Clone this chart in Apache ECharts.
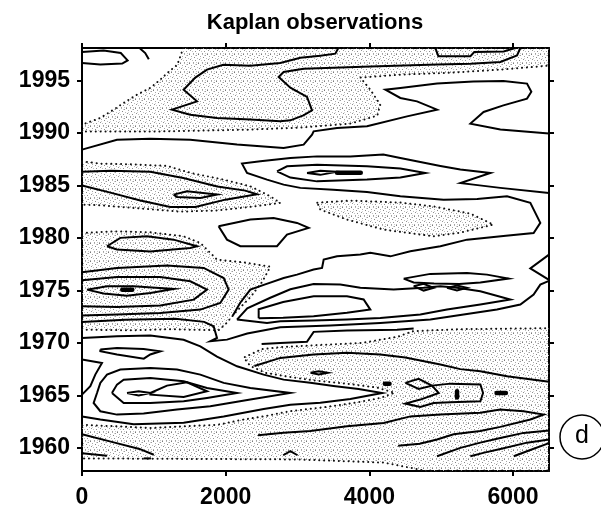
<!DOCTYPE html>
<html><head><meta charset="utf-8">
<script src="https://cdn.jsdelivr.net/npm/echarts@6/dist/echarts.min.js"></script>
<style>html,body{margin:0;padding:0;background:#fff}#c{width:601px;height:514px}</style>
</head><body><div id="c"></div>
<script>
// ---- axes ----
const xTickVals = [0, 2000, 4000, 6000];
const yearTickVals = [1960, 1965, 1970, 1975, 1980, 1985, 1990, 1995];
const xRange = [0, 6500];
const yearRange = [1957.8, 1998.08];

// ---- stippled (negative) regions, [x, year] ----
const negTop = [[1410,1998.08],[1327,1996.49],[1187,1995.7],[1090,1995.07],[951,1994.28],[766,1993.64],[579,1992.85],[440,1992.21],[255,1991.42],[0,1990.78],[0,1990.12],[951,1990.12],[1647,1990.21],[2343,1990.31],[3039,1990.5],[3735,1990.88],[4110,1991.64],[4152,1992.69],[4013,1994.11],[3874,1995.26],[4431,1995.54],[5127,1995.73],[5823,1996.02],[6500,1996.4],[6500,1998.08]];
const negMid = [[0,1987.29],[255,1987.07],[714,1987.0],[1183,1986.85],[1507,1986.2],[1967,1985.55],[2343,1984.91],[2621,1983.96],[2760,1983.33],[2343,1982.95],[1856,1982.6],[1368,1982.5],[812,1982.8],[255,1983.1],[0,1983.17]];
const negRight = [[3275,1983.35],[3735,1983.55],[4431,1983.36],[4890,1983.0],[5406,1982.31],[5725,1981.26],[5266,1980.5],[4890,1980.15],[4194,1980.79],[3689,1981.74],[3317,1982.69]];
const negLeft = [[0,1980.47],[487,1980.62],[951,1980.53],[1414,1980.15],[1647,1979.52],[1786,1978.57],[1879,1977.93],[2273,1977.64],[2621,1977.26],[2510,1975.83],[2350,1974.4],[2150,1973.0],[2000,1971.8],[1900,1971.2],[1229,1971.3],[672,1971.2],[0,1971.26]];
const negLow = [[0,1962.2],[487,1962.05],[951,1961.9],[1414,1962.05],[1879,1962.2],[2249,1962.7],[2528,1963.0],[2900,1963.5],[3400,1963.9],[3800,1964.3],[4150,1964.75],[4350,1965.25],[4100,1965.75],[3700,1966.1],[3200,1966.45],[2900,1966.75],[2550,1967.15],[2343,1967.8],[2250,1968.6],[2500,1969.4],[2760,1969.6],[3300,1969.8],[3900,1970.0],[4400,1970.6],[4600,1971.1],[5200,1971.3],[6500,1971.4],[6500,1957.8],[4800,1957.8],[4200,1958.6],[3000,1958.9],[0,1959.0]];
const negRegions = [negTop, negMid, negRight, negLeft, negLow];

// ---- contour lines, [x, year] ----
const cA = [[0,1997.7],[300,1997.85],[540,1997.6],[635,1996.9],[560,1996.6],[255,1996.5],[0,1996.65]];
const cA2 = [[800,1998.08],[880,1997.6],[930,1997.0]];
const cB = [[3568,1998.08],[3526,1997.54],[3317,1997.35],[3039,1997.16],[2760,1996.66],[2343,1996.4],[1967,1996.49],[1740,1996.02],[1577,1995.26],[1414,1994.11],[1601,1993.0],[1253,1992.21],[1507,1991.73],[1879,1991.42],[2343,1991.26],[2760,1991.1],[2900,1991.19],[3081,1991.67],[3202,1992.14],[3132,1993.42],[2900,1994.3],[2737,1995.32],[2806,1995.8],[3085,1996.11],[4013,1996.33],[4942,1996.52],[5406,1996.59],[5823,1996.75],[6055,1997.38],[6101,1998.08]];
const cDip = [[4918,1998.08],[4960,1997.3],[5406,1997.3],[5460,1997.7],[5869,1997.75],[6031,1998.08]];
const cE = [[0,1988.4],[487,1989.35],[951,1989.45],[1507,1989.35],[2158,1988.88],[2806,1988.56],[3085,1988.88],[3202,1989.83],[3224,1990.14],[3550,1990.47],[3967,1990.62],[4524,1991.57],[4942,1992.21],[4663,1993.0],[4431,1993.32],[4222,1994.11],[4431,1994.28],[4942,1994.69],[5447,1994.9],[5865,1994.94],[6194,1994.69],[6254,1993.92],[6194,1993.26],[5865,1992.62],[5590,1991.99],[5406,1990.88],[5823,1990.31],[6500,1989.93]];
const cLong = [[2100,1972.6],[2200,1973.8],[2343,1975.07],[2560,1975.6],[2807,1976.18],[2992,1976.5],[3224,1976.98],[3341,1977.14],[3364,1977.93],[3550,1978.24],[3874,1978.41],[4013,1978.57],[4292,1978.24],[4570,1978.72],[4988,1979.2],[5360,1979.83],[5900,1980.2],[6286,1980.47],[6379,1981.43],[6240,1983.33],[5916,1983.96],[5500,1983.7],[5033,1983.64],[4431,1983.96],[3967,1984.36],[3498,1984.59],[3039,1984.76],[2806,1985.07],[2575,1985.55],[2297,1986.18],[2227,1987.07],[2483,1987.29],[2900,1987.61],[3271,1987.76],[3735,1987.76],[4194,1987.93],[4431,1987.6],[4988,1986.85],[5266,1986.5],[5684,1986.18],[5266,1985.23],[5447,1985.07],[5823,1984.76],[6500,1984.28]];
const cF2 = [[2714,1986.34],[2854,1986.81],[3271,1986.97],[3967,1986.81],[4431,1986.6],[4779,1986.18],[4431,1985.75],[3967,1985.55],[3271,1985.38],[2900,1985.74],[2714,1986.34]];
const cF3 = [[3132,1986.18],[3317,1986.4],[3550,1986.3],[3317,1986.0],[3132,1986.18]];
const cG = [[0,1986.3],[400,1986.4],[950,1986.3],[1410,1985.7],[1883,1984.9],[2273,1984.5],[2436,1984.16],[1996,1983.64],[1577,1982.95],[1229,1982.95],[812,1983.55],[395,1984.31],[0,1984.98]];
const cH = [[1275,1984.12],[1462,1984.43],[1879,1984.12],[1647,1983.8],[1322,1983.9],[1275,1984.12]];
const cI = [[1901,1981.1],[2343,1981.74],[2667,1981.9],[2993,1981.42],[3154,1980.95],[2853,1980.31],[2714,1979.2],[2204,1979.2],[2018,1979.83],[1901,1981.1]];
const cJ = [[348,1979.2],[533,1980.0],[905,1980.15],[1275,1979.83],[1601,1979.2],[1507,1979.04],[951,1978.7],[487,1978.9],[348,1979.2]];
const cE1 = [[69,1975.07],[348,1975.39],[719,1975.39],[1276,1975.14],[951,1974.76],[626,1974.5],[301,1974.7],[69,1975.07]];
const cE2 = [[0,1975.96],[487,1976.28],[1090,1976.28],[1508,1975.87],[1740,1975.07],[1554,1974.12],[1090,1973.55],[487,1973.42],[0,1973.49]];
const cE3 = [[0,1976.72],[487,1977.14],[1183,1977.36],[1693,1977.14],[1972,1976.18],[2041,1975.07],[1925,1973.8],[1647,1973.17],[1090,1972.85],[487,1972.7],[0,1972.6]];
const cL6 = [[0,1972.0],[600,1972.2],[1300,1972.3],[1700,1972.0],[1832,1971.58],[1879,1970.47],[1786,1970.15],[2018,1970.31],[2300,1970.9],[2760,1971.49],[3456,1971.65],[4152,1971.9],[4848,1972.22],[5312,1972.7],[5776,1973.17],[6101,1973.65],[6286,1974.6],[6379,1975.55],[6500,1975.9]];
const cT1 = [[2500,1969.9],[2760,1970.0],[3131,1970.1],[3224,1971.05],[3688,1971.17],[4384,1971.24],[4616,1971.37]];
const cK1 = [[2157,1972.22],[2300,1973.3],[2621,1974.3],[2900,1975.1],[3224,1975.6],[3595,1975.55],[3874,1975.24],[4338,1975.08],[4755,1975.24],[4987,1975.4],[5219,1975.24],[5544,1974.92],[5962,1974.13],[5544,1973.65],[5080,1973.17],[4709,1972.7],[4152,1972.38],[3688,1972.22],[3224,1972.13],[2760,1972.06],[2575,1971.9],[2157,1972.22]];
const cK2 = [[2459,1972.35],[2459,1973.2],[2800,1973.9],[3224,1974.44],[3688,1974.44],[3920,1974.13],[4013,1973.17],[3688,1972.86],[3224,1972.54],[2800,1972.4],[2459,1972.35]];
const cP = [[4477,1976.12],[4848,1976.57],[5358,1976.66],[5637,1976.5],[5938,1976.12],[5544,1975.75],[5250,1975.6],[4900,1975.65],[4616,1975.75],[4477,1976.12]];
const cDia1 = [[4616,1975.4],[4755,1975.62],[4894,1975.24],[4755,1974.98],[4616,1975.4]];
const cDia2 = [[5080,1975.24],[5219,1975.46],[5358,1975.24],[5219,1974.98],[5080,1975.24]];
const cVr = [[6500,1978.4],[6240,1977.1],[6500,1976.0]];
const cR1 = [[2400,1967.8],[2760,1968.57],[3224,1968.89],[3688,1969.05],[4152,1968.89],[4500,1968.6],[4988,1967.95],[5266,1967.5],[5545,1967.3],[5916,1966.82],[6500,1966.3]];
const cM0 = [[0,1970.47],[487,1970.63],[951,1970.7],[1414,1970.3],[1647,1969.67],[1879,1968.7],[2158,1967.77],[2528,1966.98],[2806,1966.5],[3178,1966.2],[3500,1965.9],[3850,1965.6],[4176,1965.23],[3735,1964.66],[3317,1964.3],[2900,1964.1],[2529,1963.7],[1972,1963.0],[1415,1962.4],[719,1962.25],[255,1962.7],[0,1963.0]];
const cMa = [[0,1968.41],[278,1968.09],[185,1966.98],[116,1965.87],[0,1965.07]];
const cM2 = [[209,1965.23],[255,1966.19],[348,1966.98],[533,1967.46],[951,1967.61],[1322,1967.46],[1647,1966.98],[1972,1966.19],[2343,1965.71],[2900,1965.23],[2343,1964.6],[1786,1963.96],[1322,1963.65],[858,1963.27],[487,1963.17],[255,1963.49],[162,1964.28],[209,1965.23]];
const cM3 = [[417,1965.23],[487,1966.03],[580,1966.5],[951,1966.66],[1415,1966.34],[1740,1965.71],[2157,1965.23],[1740,1964.76],[1415,1964.44],[951,1964.28],[580,1964.28],[417,1965.23]];
const cM4 = [[951,1965.23],[1183,1965.93],[1461,1966.25],[1740,1965.39],[1415,1964.85],[951,1965.07],[951,1965.23]];
const cM5 = [[626,1965.23],[789,1965.39],[951,1965.23],[789,1965.0],[626,1965.23]];
const cN = [[255,1969.36],[487,1969.52],[857,1969.42],[1090,1969.2],[950,1968.9],[860,1968.5],[487,1968.9],[255,1969.2],[255,1969.36]];
const cLensS = [[3180,1967.15],[3294,1967.3],[3420,1967.15],[3294,1967.0],[3180,1967.15]];
const cW1 = [[4501,1966.19],[4686,1966.57],[4872,1965.93],[4686,1965.61],[4501,1966.19]];
const cW2 = [[4872,1965.93],[5127,1966.12],[5545,1966.03],[5582,1965.23],[5545,1964.44],[5127,1964.35],[4895,1964.28],[4709,1963.9],[4501,1964.22],[4709,1964.6],[4965,1965.23],[4872,1965.93]];
const cV1 = [[2450,1961.2],[2807,1961.45],[3178,1961.6],[3689,1962.06],[4199,1962.38],[4570,1963.0],[4988,1963.17],[5544,1963.35],[5822,1963.65],[6147,1963.49],[6426,1963.17],[6241,1962.7],[5822,1962.0],[5544,1961.6],[5173,1961.3],[4941,1960.8],[4700,1960.4],[4400,1960.2]];
const cDg1 = [[4941,1959.2],[5266,1960.0],[5544,1960.5],[5822,1960.95],[6147,1961.43],[6500,1961.65]];
const cDg2 = [[5405,1959.2],[5600,1959.55],[5823,1959.9],[6194,1960.5],[6500,1960.8]];
const cDg3 = [[6009,1959.2],[6240,1959.8],[6500,1960.45]];
const cBL1 = [[0,1961.3],[400,1960.6],[800,1959.9],[1000,1959.35]];
const cBL2 = [[0,1959.5],[350,1959.25]];
const cBL3 = [[860,1959.0],[960,1959.0]];
const cCaret = [[2800,1959.3],[2900,1959.7],[3000,1959.3]];
const solidContours = [cA,cA2,cB,cDip,cE,cLong,cF2,cF3,cG,cH,cI,cJ,cE1,cE2,cE3,cL6,cT1,cK1,cK2,cP,cDia1,cDia2,cVr,cR1,cM0,cMa,cM2,cM3,cM4,cM5,cN,cLensS,cW1,cW2,cV1,cDg1,cDg2,cDg3,cBL1,cBL2,cBL3,cCaret];

// ---- small dark blobs (thick short strokes) ----
const blobs = [
  [[3550,1986.2],[3880,1986.2]],
  [[560,1975.07],[700,1975.07]],
  [[5220,1965.4],[5220,1964.8]],
  [[5770,1965.23],[5900,1965.23]],
  [[4215,1966.12],[4280,1966.12]]
];

function makeStipple() {
  const c = document.createElement('canvas');
  c.width = 9; c.height = 9;
  const g = c.getContext('2d');
  const dots = [[0,0,'#7a7a7a'],[4,0,'#b4b4b4'],[7,1,'#9c9c9c'],[2,2,'#a8a8a8'],[5,3,'#868686'],[8,4,'#bdbdbd'],
                [1,5,'#929292'],[3,6,'#c2c2c2'],[6,6,'#8f8f8f'],[0,8,'#b0b0b0'],[4,8,'#a0a0a0'],[7,8,'#c8c8c8'],[6,1,'#d0d0d0'],[2,4,'#d4d4d4']];
  dots.forEach(d => { g.fillStyle = d[2]; g.fillRect(d[0], d[1], 1, 1); });
  return c;
}
const stipple = { image: makeStipple(), repeat: 'repeat' };

const chart = echarts.init(document.getElementById('c'), null, { renderer: 'canvas' });

const series = [];
negRegions.forEach(poly => {
  series.push({
    type: 'custom', coordinateSystem: 'cartesian2d', silent: true, z: 1,
    data: [poly[0]],
    renderItem: (params, api) => ({
      type: 'polygon',
      shape: { points: poly.map(p => api.coord(p)) },
      style: { fill: stipple, stroke: '#111', lineWidth: 2, lineDash: [0.1, 4.8], lineCap: 'round' }
    })
  });
});
solidContours.forEach(arr => {
  series.push({
    type: 'line', data: arr, symbol: 'none', showSymbol: false, silent: true, z: 3,
    lineStyle: { color: '#000', width: 2, join: 'miter' }, animation: false
  });
});
blobs.forEach(arr => {
  series.push({
    type: 'line', data: arr, symbol: 'none', showSymbol: false, silent: true, z: 4,
    lineStyle: { color: '#000', width: 4.5, cap: 'round' }, animation: false
  });
});

const frameLine = { show: true, onZero: false, lineStyle: { color: '#000', width: 2 } };
const tickStyle = { color: '#000', width: 2 };
const labelFont = { fontFamily: 'Liberation Sans', fontSize: 23, fontWeight: 'bold', color: '#000', formatter: v => String(v) };

chart.setOption({
  animation: false,
  grid: { left: 82, top: 48, width: 467, height: 423, containLabel: false },
  xAxis: [
    { type: 'value', position: 'bottom', min: xRange[0], max: xRange[1], axisLine: frameLine,
      axisTick: { show: true, inside: false, length: 5, customValues: xTickVals, lineStyle: tickStyle },
      axisLabel: Object.assign({ customValues: xTickVals, margin: 15 }, labelFont), splitLine: { show: false } },
    { type: 'value', position: 'top', min: xRange[0], max: xRange[1], axisLine: frameLine,
      axisTick: { show: true, inside: false, length: 5, customValues: xTickVals, lineStyle: tickStyle },
      axisLabel: { show: false }, splitLine: { show: false } }
  ],
  yAxis: [
    { type: 'value', position: 'left', min: yearRange[0], max: yearRange[1], axisLine: frameLine,
      axisTick: { show: true, inside: false, length: 5, customValues: yearTickVals, lineStyle: tickStyle },
      axisLabel: Object.assign({ customValues: yearTickVals, margin: 12 }, labelFont), splitLine: { show: false } },
    { type: 'value', position: 'right', min: yearRange[0], max: yearRange[1], axisLine: frameLine,
      axisTick: { show: true, inside: false, length: 5, customValues: yearTickVals, lineStyle: tickStyle },
      axisLabel: { show: false }, splitLine: { show: false } }
  ],
  graphic: [
    { type: 'text', x: 315, y: 23, style: { text: 'Kaplan observations', font: 'bold 22px "Liberation Sans"', fill: '#000', align: 'center', verticalAlign: 'middle' } },
    { type: 'circle', shape: { cx: 582, cy: 437, r: 22 }, style: { fill: 'none', stroke: '#000', lineWidth: 1.5 } },
    { type: 'text', x: 582, y: 436, style: { text: 'd', font: '25px "Liberation Sans"', fill: '#000', align: 'center', verticalAlign: 'middle' } }
  ],
  series: series
});
</script></body></html>
